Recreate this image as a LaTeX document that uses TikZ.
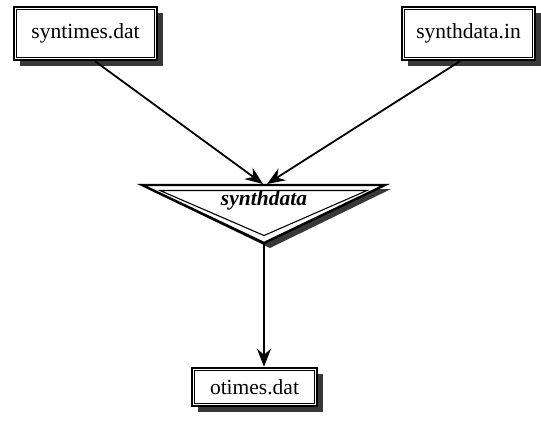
\documentclass[tikz,border=0pt]{standalone}
\usepackage{fontspec}
\setmainfont{Liberation Serif}
\usetikzlibrary{calc,arrows.meta,shadows}
\begin{document}
\begin{tikzpicture}[x=1pt,y=-1pt,
  filebox/.style={draw, line width=2.4pt, fill=white, inner sep=0pt,
    font=\fontsize{21.5}{24}\selectfont,
    drop shadow={shadow xshift=6pt, shadow yshift=-6pt, fill=black!78, opacity=1}},
  innerline/.style={line width=1.1pt},
  flow/.style={line width=1.8pt, -{Stealth[length=18pt,width=14pt,inset=6pt]}}
]
\useasboundingbox (0,0) rectangle (541,421);

% input and output files
\node[filebox, minimum width=143pt, minimum height=53pt] (syn) at (85.5,33.5) {syntimes.dat};
\node[filebox, minimum width=133pt, minimum height=53pt] (inp) at (468.5,33.5) {synthdata.in};
\node[filebox, minimum width=125pt, minimum height=38pt] (out) at (254.5,387) {otimes.dat};
\foreach \b in {syn,inp,out}
  \draw[innerline] ($(\b.north west)+(4,4)$) rectangle ($(\b.south east)+(-4,-4)$);

% program: inverted triangle with shadow
\fill[black!78] (148,189) -- (391,189) -- (270,248) -- cycle;
\draw[line width=2.4pt, fill=white, line join=miter] (142,185) -- (385,185) -- (264,243) -- cycle;
\draw[innerline, line join=miter] (160,190.5) -- (367,190.5) -- (264,235.5) -- cycle;
\node[font=\fontsize{21.5}{24}\selectfont\bfseries\itshape] (prog) at (264,200.5) {synthdata};
\coordinate (progtop) at (264,184);
\coordinate (progtip) at (264,244);

% data flow
\draw[flow] ($(syn.south)+(9.5,0)$) -- ($(progtop)+(-1,0)$);
\draw[flow] ($(inp.south)+(-8.5,0)$) -- ($(progtop)+(3,0)$);
\draw[flow] (progtip) -- (out.north -| progtip);
\end{tikzpicture}
\end{document}
